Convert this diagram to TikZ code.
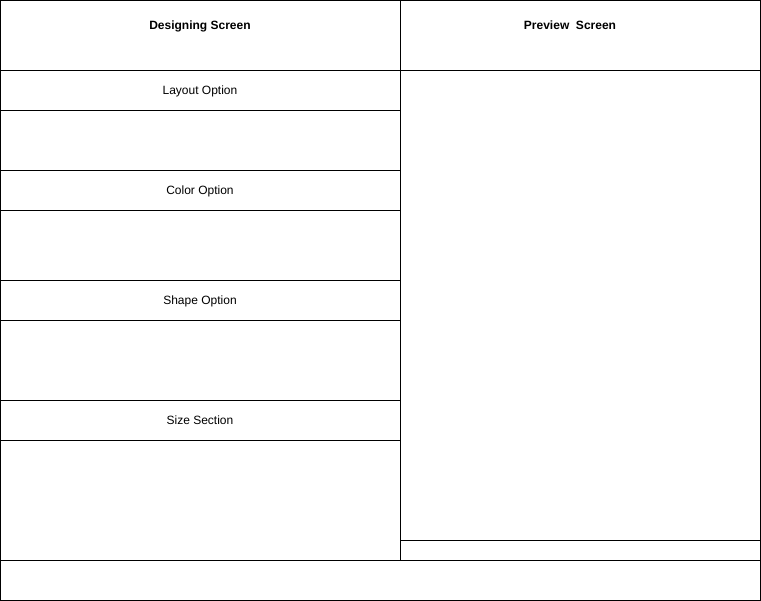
\documentclass[tikz,border=0pt]{standalone}
\usepackage{fontspec}
\setmainfont{Liberation Sans}
\begin{document}
\begin{tikzpicture}[x=1pt, y=-1pt, line width=1pt, every node/.style={font=\fontsize{12}{14}\selectfont, anchor=base}]
	\useasboundingbox (0,0) rectangle (761,601);
	\draw (0.5,0.5) rectangle (760.5,600.5);
	\draw (400.5,0.5)--(400.5,560.5);
	\draw (0.5,70.5)--(760.5,70.5);
	\draw (0.5,560.5)--(760.5,560.5);
	\draw (400.5,540.5)--(760.5,540.5);
	\foreach \y in {110,170,210,280,320,400,440}
		\draw (0.5,\y.5)--(400.5,\y.5);
	\node[font=\fontsize{12}{14}\selectfont\bfseries] (design) at (200,29.5) {Designing Screen};
	\node[font=\fontsize{12}{14}\selectfont\bfseries] (preview) at (570,29.5) {Preview\ \ Screen};
	\node (layout) at (200,94.5) {Layout Option};
	\node (color) at (200,194.5) {Color Option};
	\node (shape) at (200,304.5) {Shape Option};
	\node (size) at (200,424.5) {Size Section};
\end{tikzpicture}
\end{document}
